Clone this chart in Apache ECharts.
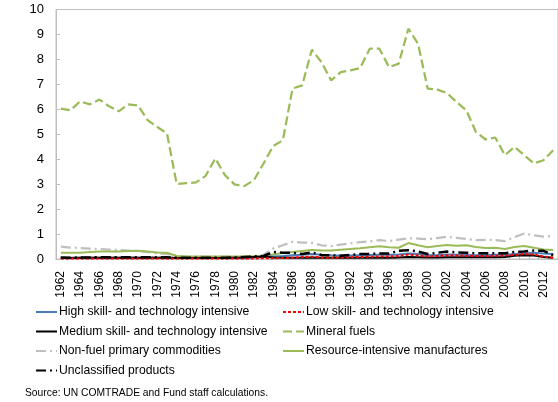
<!DOCTYPE html>
<html>
<head>
<meta charset="utf-8">
<script src="https://cdn.jsdelivr.net/npm/echarts@6/dist/echarts.min.js"></script>
<style>
html,body{margin:0;padding:0;background:#fff;}
#chart{width:558px;height:402px;}
</style>
</head>
<body>
<div id="chart"></div>
<script>
var years = [];
for (var y = 1962; y <= 2013; y++) years.push(String(y));

var highSkill = [0.05,0.05,0.05,0.05,0.05,0.05,0.05,0.05,0.05,0.05,0.05,0.05,0.04,0.04,0.04,0.04,0.04,0.04,0.04,0.05,0.06,0.08,0.1,0.12,0.15,0.17,0.2,0.17,0.15,0.14,0.14,0.15,0.16,0.17,0.17,0.18,0.22,0.2,0.15,0.16,0.18,0.17,0.16,0.15,0.16,0.17,0.17,0.2,0.22,0.25,0.22,0.2];
var lowSkill = [0.02,0.02,0.02,0.02,0.02,0.02,0.02,0.02,0.02,0.02,0.02,0.02,0.02,0.02,0.02,0.02,0.02,0.02,0.02,0.02,0.02,0.03,0.03,0.04,0.05,0.08,0.09,0.06,0.05,0.06,0.07,0.08,0.09,0.1,0.1,0.12,0.18,0.14,0.1,0.12,0.15,0.14,0.13,0.12,0.12,0.13,0.14,0.16,0.2,0.18,0.1,0.05];
var mediumSkill = [0.04,0.04,0.05,0.05,0.05,0.05,0.05,0.05,0.05,0.05,0.05,0.05,0.04,0.04,0.04,0.04,0.04,0.04,0.05,0.06,0.08,0.1,0.06,0.05,0.05,0.05,0.06,0.05,0.05,0.05,0.05,0.05,0.05,0.05,0.05,0.06,0.08,0.07,0.06,0.06,0.07,0.07,0.07,0.07,0.07,0.07,0.08,0.13,0.15,0.14,0.08,0.05];
var mineralFuels = [6.03,5.96,6.32,6.2,6.39,6.12,5.92,6.2,6.15,5.56,5.29,5.03,3.01,3.04,3.07,3.33,4.03,3.36,2.99,2.92,3.16,3.83,4.53,4.76,6.83,6.96,8.39,7.89,7.16,7.49,7.56,7.65,8.43,8.43,7.69,7.83,9.23,8.63,6.83,6.79,6.65,6.29,5.96,5.09,4.79,4.87,4.16,4.49,4.16,3.83,3.96,4.36];
var nonFuelPrimary = [0.5,0.46,0.44,0.42,0.4,0.38,0.36,0.34,0.32,0.28,0.22,0.2,0.12,0.1,0.1,0.1,0.1,0.1,0.1,0.1,0.12,0.16,0.42,0.55,0.69,0.66,0.65,0.55,0.52,0.58,0.63,0.68,0.7,0.76,0.72,0.78,0.83,0.82,0.79,0.84,0.89,0.85,0.8,0.76,0.77,0.76,0.72,0.88,1.02,0.95,0.9,0.92];
var resourceIntensive = [0.25,0.25,0.25,0.28,0.3,0.3,0.3,0.32,0.33,0.3,0.26,0.25,0.12,0.1,0.1,0.1,0.1,0.1,0.1,0.1,0.11,0.12,0.18,0.24,0.28,0.32,0.36,0.34,0.34,0.37,0.4,0.43,0.47,0.51,0.47,0.45,0.64,0.55,0.47,0.52,0.56,0.53,0.55,0.48,0.44,0.45,0.4,0.48,0.52,0.45,0.38,0.36];
var unclassified = [0.06,0.05,0.06,0.06,0.07,0.07,0.07,0.07,0.07,0.07,0.07,0.07,0.05,0.05,0.05,0.05,0.05,0.05,0.06,0.08,0.1,0.12,0.28,0.25,0.25,0.2,0.26,0.16,0.15,0.13,0.16,0.2,0.2,0.22,0.22,0.33,0.35,0.3,0.2,0.25,0.3,0.26,0.25,0.23,0.23,0.23,0.23,0.28,0.3,0.34,0.33,0.15];

var names = [
  'High skill- and technology intensive',
  'Low skill- and technology intensive',
  'Medium skill- and technology intensive',
  'Mineral fuels',
  'Non-fuel primary commodities',
  'Resource-intensive manufactures',
  'Unclassified products'
];
var yTicks = [0,1,2,3,4,5,6,7,8,9,10];

var FONT = 'Liberation Sans';

function line(name, data, color, width, type, z) {
  return {
    name: name, type: 'line', data: data, symbol: 'none', showSymbol: false,
    z: z, animation: false,
    lineStyle: { color: color, width: width, type: type },
    itemStyle: { color: color }
  };
}

var chart = echarts.init(document.getElementById('chart'), null, {renderer: 'canvas'});
var legendText = { fontFamily: FONT, fontSize: 12.2, color: '#000', padding: [0,0,0,-3] };
var legendCommon = { orient: 'vertical', top: 306, padding: 0, itemWidth: 21, itemHeight: 14, itemGap: 7.5,
  itemStyle: { opacity: 0 }, textStyle: legendText };
chart.setOption({
  animation: false,
  backgroundColor: '#fff',
  grid: { left: 56, top: 9.5, right: -3, bottom: 143, show: true, borderColor: '#bfbfbf', borderWidth: 1 },
  xAxis: {
    type: 'category', data: years, boundaryGap: true,
    axisLine: { lineStyle: { color: '#bfbfbf', width: 1 } },
    axisTick: { show: true, inside: true, length: 3, interval: 0, lineStyle: { color: '#bfbfbf' } },
    axisLabel: { interval: 1, rotate: 90, margin: 12, fontFamily: FONT, fontSize: 12, color: '#000' },
    splitLine: { show: false }
  },
  yAxis: {
    type: 'value', min: yTicks[0], max: yTicks[yTicks.length-1], interval: 1,
    axisLine: { show: true, lineStyle: { color: '#bfbfbf', width: 1 } },
    axisTick: { show: true, inside: true, length: 4, lineStyle: { color: '#bfbfbf' } },
    axisLabel: { margin: 12, fontFamily: FONT, fontSize: 13, color: '#000' },
    splitLine: { show: false }
  },
  legend: [
    Object.assign({ left: 35, data: [names[0], names[2], names[4], names[6]] }, legendCommon),
    Object.assign({ left: 282, data: [names[1], names[3], names[5]] }, legendCommon)
  ],
  graphic: [{
    type: 'text', left: 25, top: 388,
    style: { text: 'Source: UN COMTRADE and Fund staff calculations.', fontFamily: FONT, fontSize: 10.3, fill: '#000' }
  }],
  series: [
    line(names[0], highSkill, '#4a7ebb', 2, 'solid', 3),
    line(names[1], lowSkill, '#ff0000', 2, [3,2], 5),
    line(names[2], mediumSkill, '#000000', 2, 'solid', 4),
    line(names[3], mineralFuels, '#9bbb59', 2.25, [9,4], 7),
    line(names[4], nonFuelPrimary, '#bfbfbf', 2.25, [10,4,2,4], 2),
    line(names[5], resourceIntensive, '#9bbb59', 2, 'solid', 2),
    line(names[6], unclassified, '#000000', 2.5, [10,4,2,4], 6)
  ]
});
</script>
</body>
</html>
